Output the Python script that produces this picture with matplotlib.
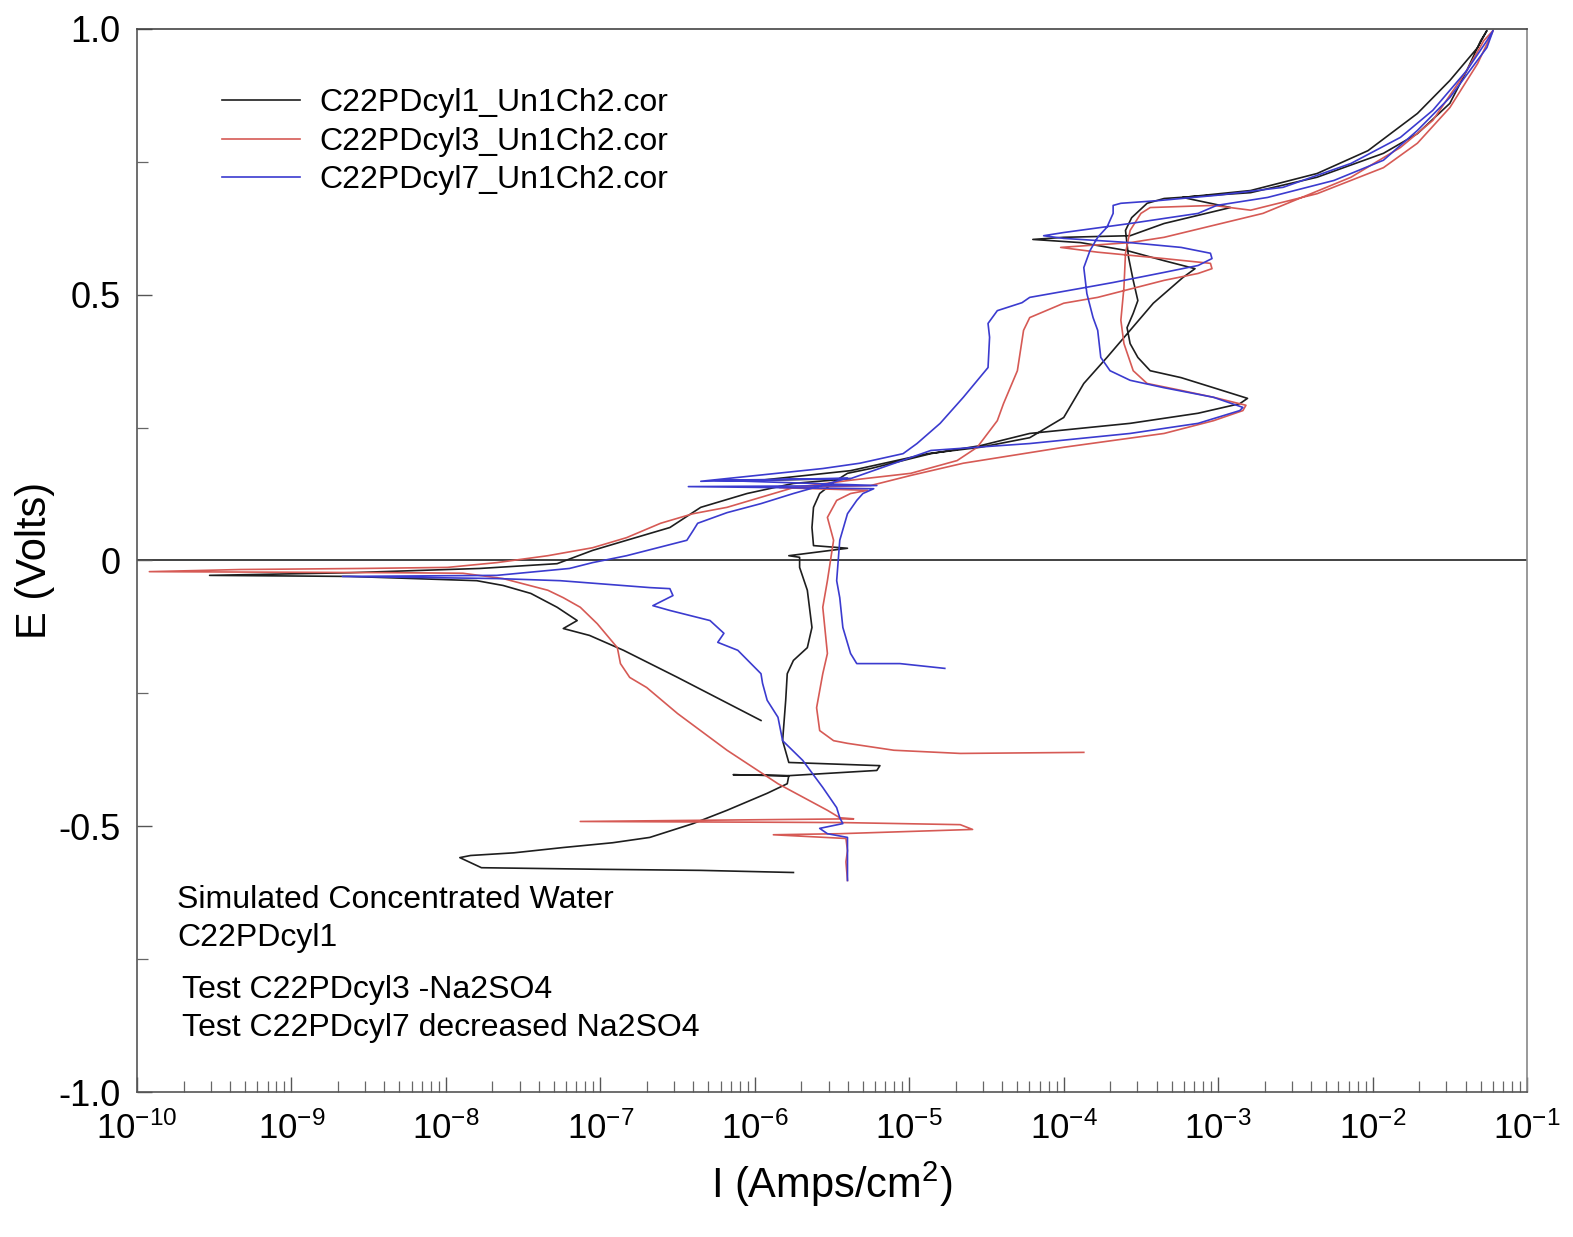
import numpy as np
import matplotlib
matplotlib.use("Agg")
import matplotlib.pyplot as plt
from matplotlib.ticker import LogLocator, NullFormatter, FixedLocator

plt.rcParams['font.family'] = ['Liberation Sans', 'DejaVu Sans']
plt.rcParams['mathtext.fontset'] = 'custom'
plt.rcParams['mathtext.rm'] = 'Liberation Sans'
plt.rcParams['mathtext.it'] = 'Liberation Sans:italic'
plt.rcParams['mathtext.bf'] = 'Liberation Sans:bold'

# ---- data: log10(I [A/cm2]) and E [V], scan order
black_logi = [-5.75, -6.35, -7.00, -7.77, -7.91, -7.84, -7.56, -7.24, -6.92, -6.68,
              -6.40, -6.18, -5.92, -5.79, -5.78, -6.14, -5.79, -5.21, -5.19, -5.78,
              -5.82, -5.80, -5.79, -5.75, -5.66, -5.63, -5.66, -5.71, -5.71, -5.78,
              -5.40, -5.62, -5.63, -5.62, -5.58, -5.47, -5.40,
              -5.25, -4.86, -4.54, -4.22, -3.57, -3.13, -2.86, -2.81,
              -3.03, -3.24, -3.44, -3.52, -3.57, -3.59, -3.55, -3.52, -3.55, -3.58,
              -3.60, -3.56, -3.46, -3.35,
              -2.79, -2.36, -1.93, -1.71, -1.50, -1.39, -1.30, -1.26,
              -1.32, -1.50, -1.71, -2.03, -2.36, -2.79, -3.23, -2.92, -3.35, -3.57,
              -4.00, -4.20, -3.89, -3.59, -3.35, -3.15, -3.23, -3.42, -3.57, -3.72,
              -3.87, -4.00, -4.22, -4.54, -4.88, -5.38, -5.96, -5.38, -5.75, -6.05,
              -6.35, -6.55, -6.83, -7.05, -7.28, -7.78, -8.62, -9.53, -8.62, -7.80,
              -7.63, -7.45, -7.28, -7.15, -7.24, -7.07, -6.85, -6.50, -5.96]
black_e = [-0.587, -0.583, -0.581, -0.578, -0.559, -0.555, -0.550, -0.540, -0.531, -0.521,
           -0.495, -0.470, -0.438, -0.420, -0.405, -0.403, -0.405, -0.395, -0.386, -0.380,
           -0.339, -0.263, -0.213, -0.188, -0.164, -0.126, -0.056, -0.013, 0.006, 0.009,
           0.023, 0.028, 0.062, 0.100, 0.126, 0.151, 0.164,
           0.173, 0.201, 0.216, 0.239, 0.258, 0.277, 0.295, 0.305,
           0.325, 0.344, 0.357, 0.382, 0.408, 0.438, 0.465, 0.489, 0.527, 0.570,
           0.621, 0.645, 0.672, 0.681,
           0.692, 0.721, 0.766, 0.803, 0.860, 0.922, 0.978, 0.997,
           0.965, 0.903, 0.841, 0.771, 0.728, 0.696, 0.683, 0.664, 0.634, 0.611,
           0.608, 0.604, 0.598, 0.583, 0.564, 0.549, 0.532, 0.484, 0.433, 0.382,
           0.333, 0.269, 0.231, 0.213, 0.201, 0.169, 0.151, 0.154, 0.145, 0.126,
           0.100, 0.062, 0.038, 0.019, -0.006, -0.015, -0.023, -0.028, -0.030, -0.038,
           -0.047, -0.062, -0.088, -0.113, -0.128, -0.141, -0.169, -0.220, -0.301]

red_logi = [-3.87, -4.67, -5.10, -5.40, -5.49, -5.58, -5.60, -5.56, -5.53, -5.56,
            -5.53, -5.49, -5.53, -5.47, -5.38, -5.27, -5.84, -5.25,
            -4.99, -4.65, -4.00, -3.35, -3.03, -2.84, -2.82,
            -3.03, -3.24, -3.46, -3.55, -3.61, -3.63, -3.61, -3.60, -3.57, -3.50,
            -3.44, -3.03,
            -2.79, -2.36, -1.93, -1.71, -1.50, -1.32, -1.24, -1.22,
            -1.28, -1.39, -1.61, -1.82, -2.14, -2.71, -3.35, -3.57, -4.02, -3.78,
            -3.35, -3.05, -3.04, -3.13, -3.35, -3.78, -4.00, -4.22, -4.26, -4.27,
            -4.30, -4.39, -4.43, -4.56, -4.69, -4.99, -5.38, -5.75, -6.18, -6.40,
            -6.61, -6.83, -7.05, -7.34, -7.67, -7.99, -8.54, -9.33, -9.92, -8.32,
            -7.89, -7.63, -7.34, -7.24, -7.13, -7.02, -6.89, -6.87, -6.81, -6.70,
            -6.50, -6.18, -5.85, -5.53, -5.45,
            -5.36, -7.13, -5.45, -4.67, -4.59, -5.45, -5.88, -5.41, -5.40, -5.41, -5.40]
red_e = [-0.361, -0.363, -0.357, -0.344, -0.339, -0.320, -0.277, -0.213, -0.175, -0.088,
         -0.038, 0.038, 0.081, 0.113, 0.126, 0.132, 0.137, 0.141,
         0.160, 0.183, 0.213, 0.239, 0.263, 0.282, 0.292,
         0.307, 0.320, 0.333, 0.357, 0.408, 0.452, 0.514, 0.578, 0.621, 0.653,
         0.664, 0.668,
         0.659, 0.690, 0.739, 0.785, 0.852, 0.935, 0.984, 0.997,
         0.978, 0.922, 0.828, 0.777, 0.721, 0.653, 0.608, 0.598, 0.589, 0.580,
         0.568, 0.559, 0.549, 0.540, 0.527, 0.495, 0.484, 0.457, 0.433, 0.414,
         0.357, 0.295, 0.263, 0.213, 0.188, 0.164, 0.151, 0.137, 0.100, 0.088,
         0.070, 0.043, 0.024, 0.009, -0.004, -0.013, -0.015, -0.017, -0.021, -0.023,
         -0.024, -0.034, -0.056, -0.070, -0.088, -0.119, -0.164, -0.194, -0.220, -0.239,
         -0.288, -0.357, -0.420, -0.470, -0.484,
         -0.486, -0.491, -0.493, -0.497, -0.506, -0.514, -0.516, -0.523, -0.546, -0.567, -0.602]

blue_logi = [-4.77, -5.06, -5.34, -5.38, -5.43, -5.45, -5.47, -5.45, -5.40, -5.34,
             -5.30, -5.23, -6.43, -5.21, -6.26, -5.38,
             -4.86, -4.22, -3.57, -3.13, -2.86, -2.84,
             -3.03, -3.35, -3.57, -3.70, -3.76, -3.78, -3.81, -3.85, -3.87, -3.83,
             -3.78, -3.72, -3.68, -3.68, -3.63, -3.39,
             -3.01, -2.58, -2.14, -1.82, -1.61, -1.39, -1.26, -1.22,
             -1.26, -1.50, -1.71, -1.93, -2.25, -2.68, -3.01, -3.13, -3.57, -4.00,
             -4.13, -4.00, -3.57, -3.24, -3.05, -3.04, -3.13, -3.35, -3.68, -3.89,
             -4.22, -4.27, -4.43, -4.49, -4.48, -4.49, -4.65, -4.80, -4.95, -5.04,
             -5.32, -5.56, -6.35, -5.40, -5.75, -5.96, -6.18, -6.37, -6.40, -6.44,
             -6.83, -7.05, -7.20, -7.67, -8.67, -7.67, -7.26, -6.68, -6.55, -6.53,
             -6.66, -6.55, -6.29, -6.20, -6.24, -6.11, -5.96, -5.95, -5.92, -5.85,
             -5.82, -5.69, -5.56, -5.47, -5.45, -5.43, -5.58, -5.53, -5.40, -5.40, -5.40]
blue_e = [-0.203, -0.194, -0.194, -0.175, -0.126, -0.070, -0.038, 0.038, 0.088, 0.113,
          0.126, 0.135, 0.139, 0.141, 0.151, 0.154,
          0.207, 0.220, 0.239, 0.258, 0.282, 0.288,
          0.307, 0.325, 0.339, 0.357, 0.382, 0.433, 0.457, 0.502, 0.551, 0.583,
          0.608, 0.627, 0.653, 0.668, 0.672, 0.677,
          0.687, 0.702, 0.747, 0.796, 0.847, 0.922, 0.978, 0.997,
          0.965, 0.871, 0.809, 0.753, 0.715, 0.683, 0.668, 0.653, 0.634, 0.617,
          0.611, 0.606, 0.598, 0.589, 0.578, 0.568, 0.555, 0.542, 0.523, 0.512,
          0.495, 0.485, 0.470, 0.446, 0.420, 0.363, 0.307, 0.258, 0.220, 0.201,
          0.183, 0.173, 0.149, 0.155, 0.126, 0.107, 0.090, 0.070, 0.056, 0.038,
          0.009, -0.004, -0.015, -0.028, -0.030, -0.034, -0.038, -0.051, -0.053, -0.066,
          -0.085, -0.094, -0.113, -0.137, -0.154, -0.169, -0.213, -0.231, -0.263, -0.295,
          -0.339, -0.376, -0.427, -0.465, -0.484, -0.495, -0.504, -0.514, -0.521, -0.546, -0.602]

labels = ['C22PDcyl1_Un1Ch2.cor', 'C22PDcyl3_Un1Ch2.cor', 'C22PDcyl7_Un1Ch2.cor']
colors = ['#1e1e1e', '#d65a55', '#3b3bcf']
notes = ['Simulated Concentrated Water', 'C22PDcyl1',
         'Test C22PDcyl3 -Na2SO4', 'Test C22PDcyl7 decreased Na2SO4']

fig = plt.figure(figsize=(15.73, 12.37), dpi=100)
ax = fig.add_axes([0.0871, 0.1172, 0.8837, 0.8594])

series = [(black_logi, black_e), (red_logi, red_e), (blue_logi, blue_e)]
for (li, e), lab, c in zip(series, labels, colors):
    ax.plot(10 ** np.array(li), e, color=c, lw=1.2, label=lab)

ax.axhline(0, color='#333333', lw=1.3, zorder=0)

ax.set_xscale('log')
ax.set_xlim(1e-10, 1e-1)
ax.set_ylim(-1.0, 1.0)
ax.xaxis.set_major_locator(LogLocator(base=10, numticks=12))
ax.xaxis.set_minor_locator(LogLocator(base=10, subs=np.arange(2, 10), numticks=12))
ax.xaxis.set_minor_formatter(NullFormatter())
ax.yaxis.set_major_locator(FixedLocator([-1.0, -0.5, 0, 0.5, 1.0]))
ax.set_yticklabels(['-1.0', '-0.5', '0', '0.5', '1.0'])
ax.yaxis.set_minor_locator(FixedLocator([-0.75, -0.25, 0.25, 0.75]))

ax.tick_params(axis='both', which='major', direction='in', length=11, width=1.0,
               color='#555555', labelsize=26)
ax.tick_params(axis='x', which='major', labelsize=25, pad=14)
ax.tick_params(axis='y', which='major', pad=12)
ax.tick_params(axis='both', which='minor', direction='in', length=8, width=0.9,
               color='#666666')

for side, col in [('top', '#444444'), ('left', '#555555'), ('right', '#888888'), ('bottom', '#555555')]:
    ax.spines[side].set_color(col)
    ax.spines[side].set_linewidth(1.2)

ax.set_xlabel('I (Amps/cm$^2$)', fontsize=30)
ax.set_ylabel('E (Volts)', fontsize=30)
ax.xaxis.set_label_coords(0.5, -0.064)
ax.yaxis.set_label_coords(-0.059, 0.5)

ax.legend(loc='upper left', bbox_to_anchor=(0.061, 0.944), frameon=False,
          fontsize=23, handlelength=2.45, handletextpad=0.6, labelspacing=0.26,
          borderpad=0, borderaxespad=0)

ax.text(0.0288, 0.1806, notes[0], transform=ax.transAxes, fontsize=23, va='center')
ax.text(0.0288, 0.1449, notes[1], transform=ax.transAxes, fontsize=23, va='center')
ax.text(0.0324, 0.0960, notes[2], transform=ax.transAxes, fontsize=23, va='center')
ax.text(0.0324, 0.0602, notes[3], transform=ax.transAxes, fontsize=23, va='center')

fig.savefig('out.png', dpi=100)
